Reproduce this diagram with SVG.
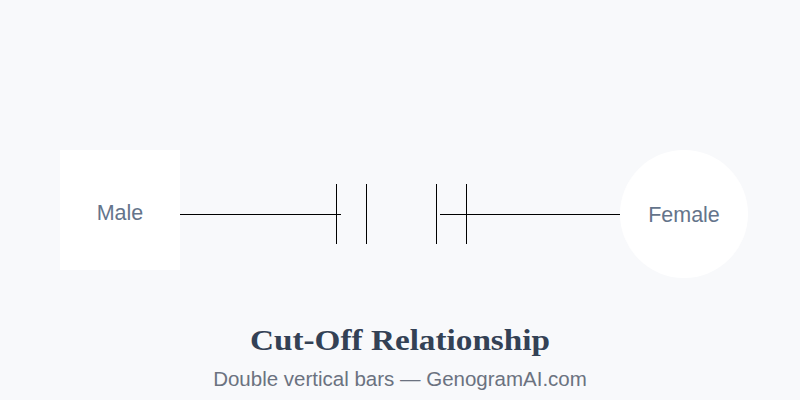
<svg xmlns="http://www.w3.org/2000/svg" width="800" height="400" viewBox="0 0 800 400">
<style>
.bg{fill:#f8f9fb}
.node{fill:#ffffff}
.lbl{font-family:"Liberation Sans",Arial,sans-serif;font-size:21.5px;fill:#64748b;text-anchor:middle}
.ln{stroke:#000000;stroke-width:1;fill:none}
.title{font-family:"Liberation Serif","DejaVu Serif",serif;font-weight:bold;font-size:30px;fill:#334155;text-anchor:middle}
.sub{font-family:"Liberation Sans",Arial,sans-serif;font-size:20.5px;fill:#6b7280;text-anchor:middle}
</style>
<rect class="bg" x="0" y="0" width="800" height="400"/>
<g id="connectors">
<line class="ln" x1="180" y1="214.5" x2="341" y2="214.5"/>
<line class="ln" x1="336.5" y1="184" x2="336.5" y2="244"/>
<line class="ln" x1="366.5" y1="184" x2="366.5" y2="244"/>
<line class="ln" x1="436.5" y1="184" x2="436.5" y2="244"/>
<line class="ln" x1="466.5" y1="184" x2="466.5" y2="244"/>
<line class="ln" x1="440" y1="214.5" x2="620" y2="214.5"/>
</g>
<g id="male">
<rect class="node" x="60" y="150" width="120" height="120"/>
<text class="lbl" x="120" y="219.5">Male</text>
</g>
<g id="female">
<circle class="node" cx="684" cy="214" r="64"/>
<text class="lbl" x="684" y="221.5">Female</text>
</g>
<text class="title" x="400" y="350" textLength="300" lengthAdjust="spacingAndGlyphs">Cut-Off Relationship</text>
<text class="sub" x="400" y="386">Double vertical bars — GenogramAI.com</text>
</svg>
